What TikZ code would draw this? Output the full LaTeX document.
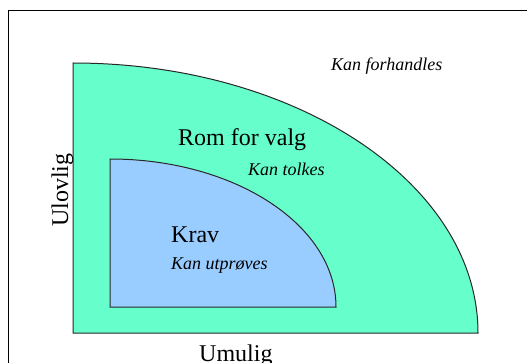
\documentclass[tikz,border=0pt]{standalone}
\usepackage{fontspec}
\setmainfont{Liberation Serif}
\definecolor{outerfill}{RGB}{102,255,204}
\definecolor{innerfill}{RGB}{153,204,255}
\definecolor{edge}{RGB}{40,40,40}
\begin{document}
\begin{tikzpicture}[x=1pt,y=1pt,
  big/.style={inner sep=0pt,font=\fontsize{24}{28}\selectfont},
  small/.style={inner sep=0pt,font=\fontsize{18}{22}\selectfont\itshape},
  region/.style={draw=edge,line width=1pt}]
\useasboundingbox (0,0) rectangle (527,362);
\begin{scope}
\clip (0,0) rectangle (527,362);
\draw[line width=1.2pt] (8.5,-5) -- (8.5,351.5) -- (535,351.5);
\end{scope}
\filldraw[region,fill=outerfill] (73,29) -- (73,299) arc[start angle=90,end angle=0,x radius=405,y radius=270] -- cycle;
\filldraw[region,fill=innerfill] (110,55) -- (110,203) arc[start angle=90,end angle=0,x radius=226,y radius=148] -- cycle;
\node[small,anchor=base west] (forh) at (331,291) {Kan forhandles};
\node[big,anchor=base west] (rom) at (178,217) {Rom for valg};
\node[small,anchor=base west] (tolk) at (248,187) {Kan tolkes};
\node[big,anchor=base west] (krav) at (171,120) {Krav};
\node[small,anchor=base west] (utpr) at (171,93) {Kan utprøves};
\node[big,anchor=base west] (umulig) at (199,1) {Umulig};
\node[big,anchor=base west,rotate=90] (ulovlig) at (68,135) {Ulovlig};
\end{tikzpicture}
\end{document}
